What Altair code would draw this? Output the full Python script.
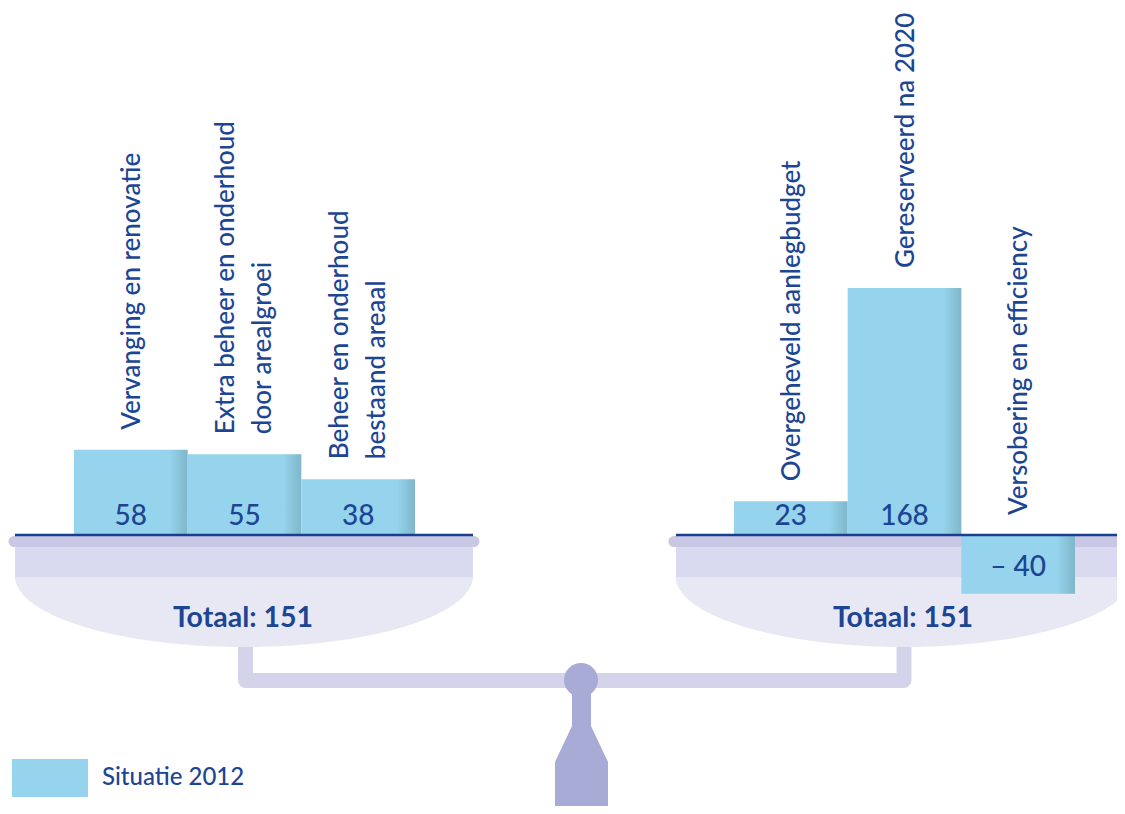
import altair as alt
import numpy as np
import pandas as pd

# ---------------- data ----------------
left_categories = ["Vervanging en renovatie",
                   "Extra beheer en onderhoud\ndoor arealgroei",
                   "Beheer en onderhoud\nbestaand areaal"]
left_values = [58, 55, 38]
right_categories = ["Overgeheveld aanlegbudget",
                    "Gereserveerd na 2020",
                    "Versobering en efficiency"]
right_values = [23, 168, -40]
series_name = "Situatie 2012"
total_prefix = "Totaal: "

# ---------------- layout / style ----------------
W, H = 1109, 798            # plot area (page minus 8px margin)
BASE_Y = 535                # page y of zero line
PX_PER_UNIT = 1.47
VDOM = [(BASE_Y - (8 + H)) / PX_PER_UNIT, (BASE_Y - 8) / PX_PER_UNIT]

FONT = "Lato"
FW = 500
NAVY = "#1c4593"
LINE = "#1b3f8f"
BAR = "#95d4ec"
BAR_SHADE = "#7fb6ca"
RIM = "#c8c8e4"
BAND = "#d9d9ef"
BOWL = "#e8e8f5"
BEAM = "#d3d4ea"
FULC = "#a7abd6"
LH = 37

GRAD = alt.LinearGradient(
    gradient="linear", x1=0, x2=1, y1=0, y2=0,
    stops=[alt.GradientStop(color=BAR, offset=0),
           alt.GradientStop(color=BAR, offset=0.84),
           alt.GradientStop(color=BAR_SHADE, offset=1)])

# pixel-coordinate scales for the decorative balance
XS = alt.Scale(domain=[8, 8 + W], nice=False, zero=False)
YS = alt.Scale(domain=[8, 8 + H], reverse=True, nice=False, zero=False)


def ex(f):
    return alt.X(f"{f}:Q", scale=XS, axis=None)


def ey(f):
    return alt.Y(f"{f}:Q", scale=YS, axis=None)


layers = []

# beam with hangers
beam_df = pd.DataFrame({"x": [245.5, 245.5, 904, 904],
                        "y": [628, 680.5, 680.5, 628],
                        "o": [0, 1, 2, 3]})
layers.append(alt.Chart(beam_df).mark_line(
    color=BEAM, strokeWidth=15, strokeJoin="round", strokeCap="butt").encode(
    x=ex("x"), y=ey("y"), order="o:Q"))


# bowls (half ellipses)
def bowl(cx, a, depth, top, x_hi=None):
    x_hi = cx + a if x_hi is None else x_hi
    t = np.linspace(-np.pi / 2, np.pi / 2, 121)
    xs = cx + a * np.sin(t)
    ys = top + depth * np.cos(t)
    m = xs <= x_hi
    df = pd.DataFrame({"x": xs[m], "y": np.full(m.sum(), top), "y2": ys[m]})
    return alt.Chart(df).mark_area(color=BOWL).encode(
        x=ex("x"), y=ey("y"), y2=alt.Y2("y2:Q"))


layers.append(bowl(244, 229, 71, 576))
layers.append(bowl(903.5, 228, 71, 576, 1130))

# bands under the rims
band_df = pd.DataFrame({"x": [15, 676], "x2": [473, 1130],
                        "y": [546, 546], "y2": [577, 577]})
layers.append(alt.Chart(band_df).mark_rect(color=BAND).encode(
    x=ex("x"), x2=alt.X2("x2:Q"), y=ey("y"), y2=alt.Y2("y2:Q")))

# rims
rim_df = pd.DataFrame({"x": [14, 674], "x2": [474, 1140], "y": [541.5, 541.5]})
layers.append(alt.Chart(rim_df).mark_rule(
    color=RIM, strokeWidth=11, strokeCap="round").encode(
    x=ex("x"), x2=alt.X2("x2:Q"), y=ey("y")))

# fulcrum
stem_df = pd.DataFrame({"y": [690, 726, 762, 806],
                        "x": [572, 572, 555, 555],
                        "x2": [591, 591, 608, 608]})
layers.append(alt.Chart(stem_df).mark_area(orient="horizontal", color=FULC).encode(
    y=ey("y"), x=ex("x"), x2=alt.X2("x2:Q")))
knob_df = pd.DataFrame({"x": [581], "y": [680]})
layers.append(alt.Chart(knob_df).mark_point(
    shape="circle", filled=True, opacity=1, color=FULC, size=1156, strokeWidth=0).encode(
    x=ex("x"), y=ey("y")))


# ---------------- bars ----------------
def side(cats, vals, x0, x1):
    df = pd.DataFrame({"cat": cats, "value": vals})
    xsc = alt.Scale(domain=cats, range=[x0 - 8, x1 - 8],
                    paddingInner=0, paddingOuter=0)
    ysc = alt.Scale(domain=VDOM, nice=False, zero=False)
    x = alt.X("cat:N", scale=xsc, axis=None, sort=None)
    base = alt.Chart(df).transform_calculate(
        label="datum.value < 0 ? '\u2013 ' + abs(datum.value) : '' + datum.value",
        top="max(datum.value, 0)",
        multi="indexof(datum.cat, '\\n') >= 0")
    out = []
    out.append(base.mark_bar(color=GRAD).encode(
        x=x, y=alt.Y("value:Q", scale=ysc, axis=None), y2=alt.Y2Datum(0)))
    out.append(base.transform_filter("datum.value >= 0").mark_text(
        font=FONT, fontWeight=FW, fontSize=28, color=NAVY, baseline="middle", dy=-18).encode(
        x=x, y=alt.YDatum(0, scale=ysc, axis=None), text="label:N"))
    out.append(base.transform_filter("datum.value < 0").mark_text(
        font=FONT, fontWeight=FW, fontSize=28, color=NAVY, baseline="middle", dy=33).encode(
        x=x, y=alt.YDatum(0, scale=ysc, axis=None), text="label:N"))
    for flt, dy in (("!datum.multi", 1), ("datum.multi", -LH / 2)):
        out.append(base.transform_filter(flt).mark_text(
            font=FONT, fontWeight=FW, fontSize=26, color=NAVY, angle=270, align="left",
            baseline="middle", dx=20, dy=dy, lineBreak="\n", lineHeight=LH).encode(
            x=x, y=alt.Y("top:Q", scale=ysc, axis=None), text="cat:N"))
    return out


left_layers = side(left_categories, left_values, 74, 415)
right_layers = side(right_categories, right_values, 734, 1075)
layers += left_layers[:1] + right_layers[:1]

# zero lines
zero_df = pd.DataFrame({"x": [15, 676], "x2": [473, 1125], "y": [535, 535]})
layers.append(alt.Chart(zero_df).mark_rule(color=LINE, strokeWidth=2.5).encode(
    x=ex("x"), x2=alt.X2("x2:Q"), y=ey("y")))

layers += left_layers[1:] + right_layers[1:]

# totals
tot_df = pd.DataFrame({"x": [243, 903], "y": [618, 618],
                       "t": [f"{total_prefix}{sum(left_values)}",
                             f"{total_prefix}{sum(right_values)}"]})
layers.append(alt.Chart(tot_df).mark_text(
    font=FONT, fontSize=28.5, fontWeight="bold", color=NAVY, baseline="middle").encode(
    x=ex("x"), y=ey("y"), text="t:N"))

# legend
leg_df = pd.DataFrame({"x": [12], "x2": [88], "y": [759], "y2": [797],
                       "tx": [102], "ty": [778], "t": [series_name]})
layers.append(alt.Chart(leg_df).mark_rect(color=BAR).encode(
    x=ex("x"), x2=alt.X2("x2:Q"), y=ey("y"), y2=alt.Y2("y2:Q")))
layers.append(alt.Chart(leg_df).mark_text(
    font=FONT, fontWeight=FW, fontSize=24, color=NAVY, align="left", baseline="middle").encode(
    x=ex("tx"), y=ey("ty"), text="t:N"))

chart = alt.layer(*layers).resolve_scale(x="independent", y="independent").properties(
    width=W, height=H, padding=0,
    autosize=alt.AutoSizeParams(type="none")
).configure_view(stroke=None)

chart.save("out.html", embed_options={"renderer": "svg", "actions": False})
